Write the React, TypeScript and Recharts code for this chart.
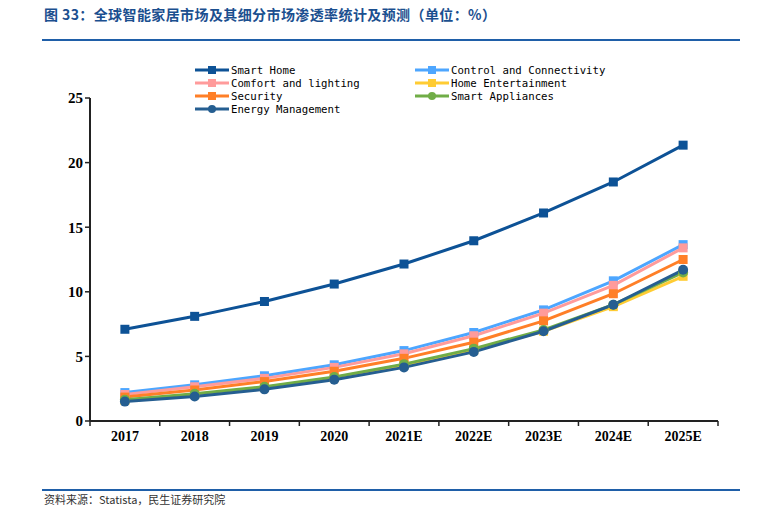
import { CartesianGrid, Line, LineChart, XAxis, YAxis } from "recharts";

const years = ["2017", "2018", "2019", "2020", "2021E", "2022E", "2023E", "2024E", "2025E"];

const smartHome = [7.1, 8.1, 9.25, 10.6, 12.15, 13.95, 16.1, 18.5, 21.35];
const control = [2.2, 2.8, 3.5, 4.35, 5.45, 6.85, 8.6, 10.85, 13.65];
const comfort = [2.05, 2.65, 3.3, 4.15, 5.2, 6.6, 8.35, 10.5, 13.4];
const entertainment = [1.6, 2.05, 2.6, 3.35, 4.35, 5.5, 6.95, 8.85, 11.2];
const security = [1.85, 2.4, 3.05, 3.85, 4.85, 6.1, 7.75, 9.85, 12.5];
const appliances = [1.65, 2.1, 2.65, 3.4, 4.4, 5.6, 7.05, 9.0, 11.5];
const energy = [1.5, 1.9, 2.45, 3.2, 4.15, 5.35, 6.95, 9.0, 11.7];

const yTicks = [0, 5, 10, 15, 20, 25];

const series = [
  { key: "smartHome", name: "Smart Home", color: "#0D5296", shape: "square", values: smartHome },
  { key: "control", name: "Control and Connectivity", color: "#4DA6FF", shape: "square", values: control },
  { key: "comfort", name: "Comfort and lighting", color: "#FF9B9B", shape: "square", values: comfort },
  { key: "entertainment", name: "Home Entertainment", color: "#FFCC33", shape: "square", values: entertainment },
  { key: "security", name: "Security", color: "#FF7F27", shape: "square", values: security },
  { key: "appliances", name: "Smart Appliances", color: "#70AD47", shape: "circle", values: appliances },
  { key: "energy", name: "Energy Management", color: "#255E91", shape: "circle", values: energy },
];

const data = years.map((year, i) => {
  const row: Record<string, string | number> = { year };
  series.forEach((s) => {
    row[s.key] = s.values[i];
  });
  return row;
});

const BAND = 628 / years.length;

function makeDot(color: string, shape: string) {
  return (props: any) => {
    const { cx, cy, index } = props;
    if (cx == null || cy == null) return <g key={index} />;
    if (shape === "circle") return <circle key={index} cx={cx} cy={cy} r={5} fill={color} />;
    return <rect key={index} x={cx - 4.5} y={cy - 4.5} width={9} height={9} fill={color} />;
  };
}

function XTick(props: any) {
  const { x, y, payload, index } = props;
  const left = x - BAND / 2;
  return (
    <g>
      <line x1={left} y1={y - 8} x2={left} y2={y - 3} stroke="#222" strokeWidth={1.5} />
      {index === years.length - 1 && (
        <line x1={x + BAND / 2} y1={y - 8} x2={x + BAND / 2} y2={y - 3} stroke="#222" strokeWidth={1.5} />
      )}
      <text x={x} y={y + 12} textAnchor="middle" fontFamily="Liberation Serif" fontWeight="bold" fontSize={14} fill="#000">
        {payload.value}
      </text>
    </g>
  );
}

function LegendBox() {
  const font = { fontFamily: "'DejaVu Sans Mono', monospace", fontSize: 10.7, color: "#000" };
  const pos = [
    [195, 70], [415, 70],
    [195, 83], [415, 83],
    [195, 96], [415, 96],
    [195, 109],
  ];
  return (
    <>
      {series.map((s, i) => (
        <div key={s.key} style={{ position: "absolute", left: pos[i][0], top: pos[i][1] - 7, height: 14, display: "flex", alignItems: "center", ...font }}>
          <svg width={34} height={14} style={{ marginRight: 2 }}>
            <line x1={0} y1={7} x2={34} y2={7} stroke={s.color} strokeWidth={3} />
            {s.shape === "circle" ? (
              <circle cx={17} cy={7} r={4} fill={s.color} />
            ) : (
              <rect x={13} y={3} width={8} height={8} fill={s.color} />
            )}
          </svg>
          <span style={{ whiteSpace: "pre" }}>{s.name}</span>
        </div>
      ))}
    </>
  );
}

export default function App() {
  return (
    <div style={{ position: "absolute", left: 0, top: 0, width: 774, height: 507, background: "#fff", overflow: "hidden" }}>
      <style>{"body{margin:0}"}</style>
      <div style={{ position: "absolute", left: 44, top: 4, fontFamily: "'Noto Sans CJK SC'", fontWeight: "bold", fontSize: 14, letterSpacing: 0.4, color: "#1B4F8F", whiteSpace: "pre" }}>
        图 33：全球智能家居市场及其细分市场渗透率统计及预测（单位：%）
      </div>
      <div style={{ position: "absolute", left: 42, top: 39, width: 698, height: 2, background: "#1F5FA8" }} />
      <LineChart width={774} height={507} data={data} margin={{ top: 98, right: 56, bottom: 56, left: 30 }}>
        <CartesianGrid horizontal={false} vertical={false} />
        <XAxis
          dataKey="year"
          interval={0}
          padding={{ left: BAND / 2, right: BAND / 2 }}
          axisLine={{ stroke: "#222", strokeWidth: 2 }}
          tickLine={false}
          tick={<XTick />}
          height={30}
        />
        <YAxis
          domain={[0, 25]}
          ticks={yTicks}
          width={60}
          axisLine={{ stroke: "#222", strokeWidth: 2 }}
          tickLine={{ stroke: "#222", strokeWidth: 1.5 }}
          tickSize={5}
          tick={{ fontFamily: "Liberation Serif", fontWeight: "bold", fontSize: 15, fill: "#000" }}
        />
        {series.map((s) => (
          <Line
            key={s.key}
            dataKey={s.key}
            name={s.name}
            stroke={s.color}
            strokeWidth={3}
            dot={makeDot(s.color, s.shape)}
            activeDot={false}
            isAnimationActive={false}
          />
        ))}
      </LineChart>
      <LegendBox />
      <div style={{ position: "absolute", left: 42, top: 489, width: 698, height: 2, background: "#1F5FA8" }} />
      <div style={{ position: "absolute", left: 44, top: 492, fontFamily: "'Noto Sans CJK SC'", fontSize: 11, lineHeight: "14px", color: "#333", whiteSpace: "nowrap" }}>
        资料来源：Statista，民生证券研究院
      </div>
    </div>
  );
}
